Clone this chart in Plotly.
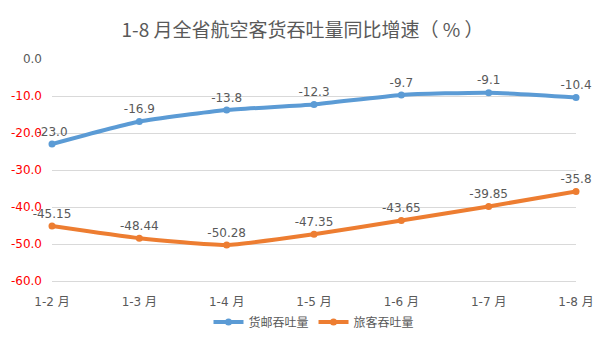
import plotly.graph_objects as go

categories = ["1-2 月", "1-3 月", "1-4 月", "1-5 月", "1-6 月", "1-7 月", "1-8 月"]
cargo = [-23.0, -16.9, -13.8, -12.3, -9.7, -9.1, -10.4]
cargo_labels = ["-23.0", "-16.9", "-13.8", "-12.3", "-9.7", "-9.1", "-10.4"]
passenger = [-45.15, -48.44, -50.28, -47.35, -43.65, -39.85, -35.8]
passenger_labels = ["-45.15", "-48.44", "-50.28", "-47.35", "-43.65", "-39.85", "-35.8"]
tick_vals = [0, -10, -20, -30, -40, -50, -60]
tick_text = ["0.0", "-10.0", "-20.0", "-30.0", "-40.0", "-50.0", "-60.0"]

FONT = "DejaVu Sans, Noto Sans CJK SC, sans-serif"
GRAY = "#595959"

tick_html = [f'<span style="color:{GRAY}">{t}</span>' if v == 0 else t
             for v, t in zip(tick_vals, tick_text)]

fig = go.Figure()
fig.add_trace(go.Scatter(
    x=categories, y=cargo, name="货邮吞吐量", mode="lines+markers+text",
    text=cargo_labels, textposition="top center", cliponaxis=False,
    textfont=dict(size=12, color=GRAY, family=FONT),
    line=dict(color="#5B9BD5", width=4, shape="spline", smoothing=0.5),
    marker=dict(size=7, color="#5B9BD5"),
))
fig.add_trace(go.Scatter(
    x=categories, y=passenger, name="旅客吞吐量", mode="lines+markers+text",
    text=passenger_labels, textposition="top center", cliponaxis=False,
    textfont=dict(size=12, color=GRAY, family=FONT),
    line=dict(color="#ED7D31", width=4, shape="spline", smoothing=0.5),
    marker=dict(size=7, color="#ED7D31"),
))

fig.update_layout(
    width=605, height=340,
    margin=dict(l=52, r=29, t=59, b=59, autoexpand=False),
    paper_bgcolor="white", plot_bgcolor="white",
    font=dict(family=FONT, color=GRAY, size=12),
    title=dict(text="1-8 月全省航空客货吞吐量同比增速（ % ）", x=0.5, xanchor="center",
               y=0.91, yanchor="middle",
               font=dict(size=19, color=GRAY, family="Noto Sans CJK SC, sans-serif")),
    showlegend=True,
    legend=dict(orientation="h", x=0.5, xanchor="center", y=-0.185, yanchor="middle",
                font=dict(size=12, color=GRAY, family="Noto Sans CJK SC, sans-serif"),
                itemwidth=30),
    xaxis=dict(showgrid=False, showline=True, linecolor="#D9D9D9", ticks="",
               tickfont=dict(size=12, color=GRAY), range=[0, 6], fixedrange=True,
               ticklabelstandoff=10, automargin=False),
    yaxis=dict(range=[-60, 0], tickvals=tick_vals, ticktext=tick_html, showgrid=True,
               gridcolor="#D9D9D9", gridwidth=1, zeroline=False, showline=False, ticks="",
               tickfont=dict(size=12, color="red"), ticklabelstandoff=9, automargin=False),
)

fig.write_html("out.html")
